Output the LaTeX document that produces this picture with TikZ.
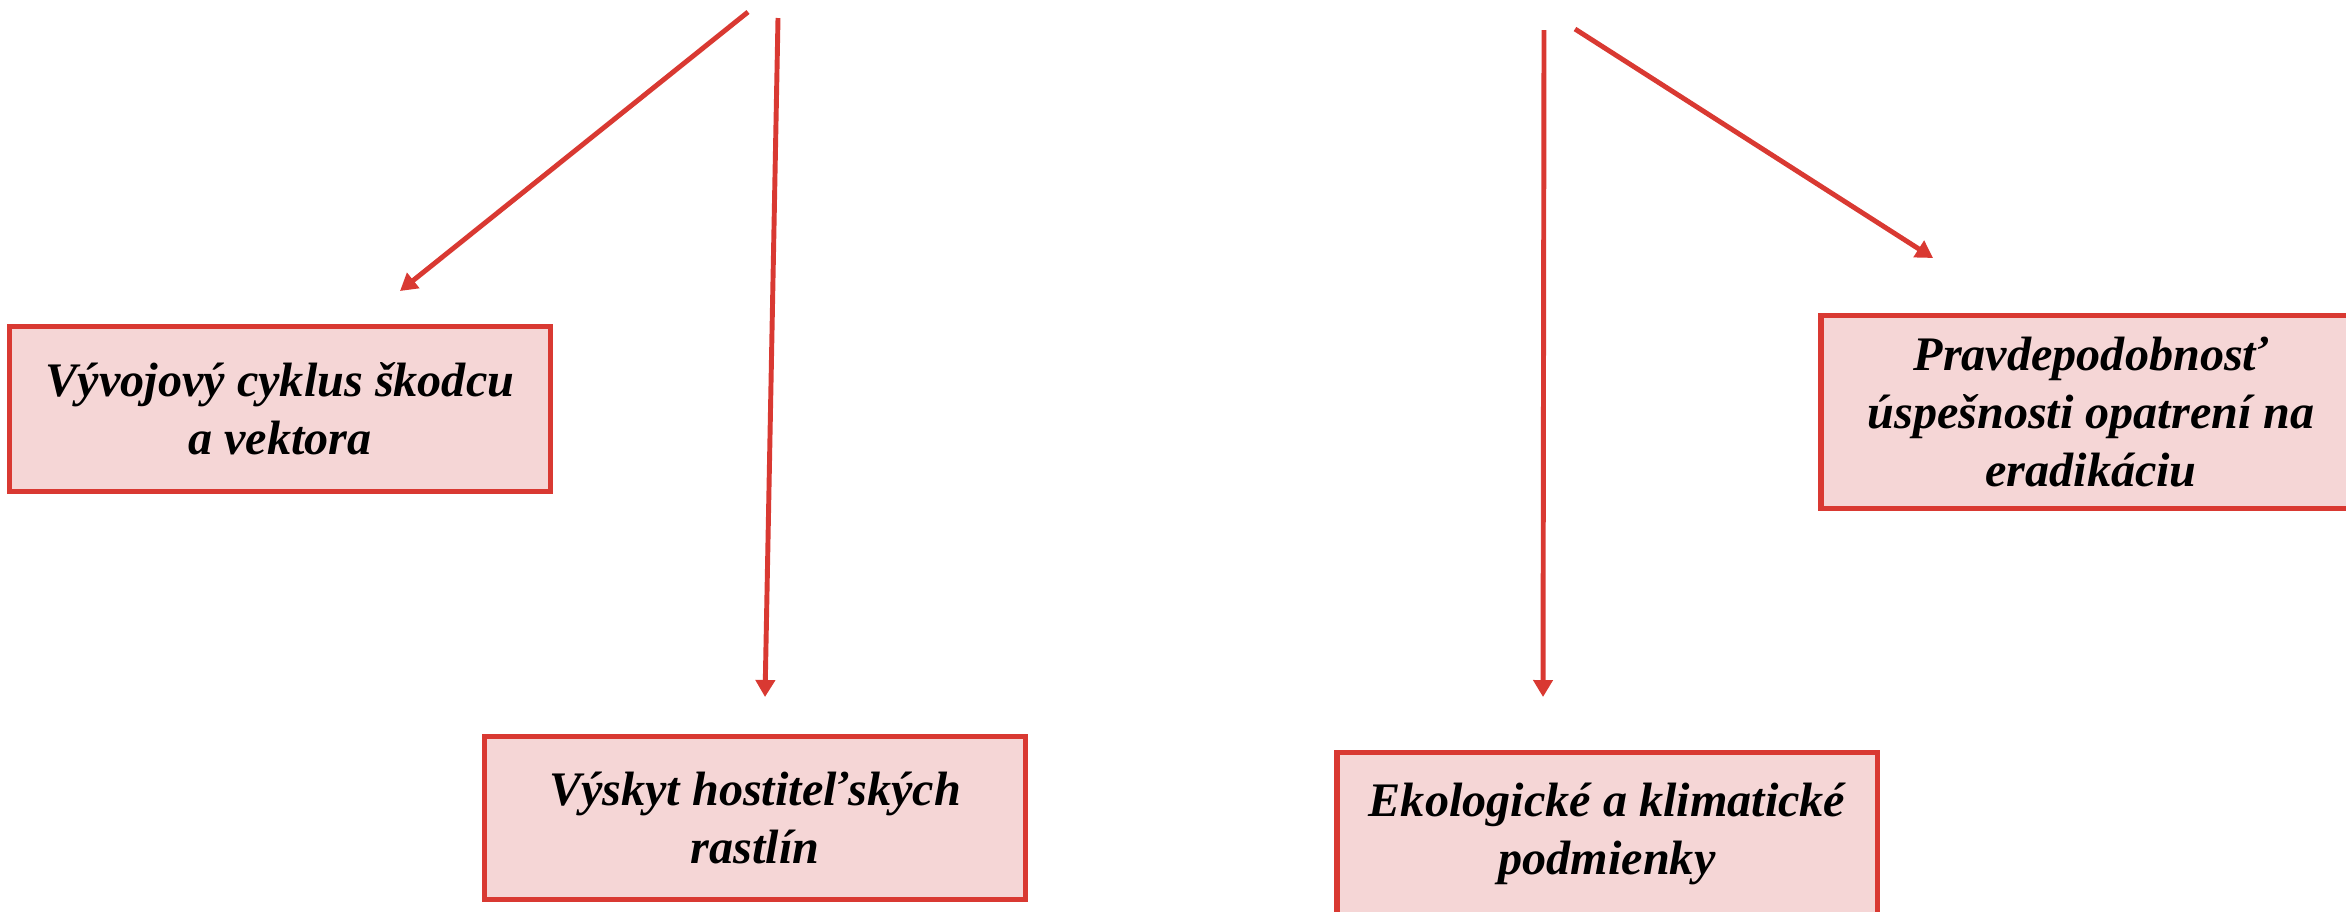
\documentclass[tikz,border=0pt]{standalone}
\usepackage{fontspec}
\setmainfont{Liberation Serif}
\usetikzlibrary{arrows.meta,positioning}
\definecolor{boxred}{RGB}{217,57,50}
\definecolor{boxpink}{RGB}{245,214,214}
\begin{document}
\begin{tikzpicture}[x=0.01cm,y=-0.01cm,>={Triangle[length=0.17cm,width=0.19cm]},
  factor/.style={draw=boxred,fill=boxpink,line width=1.5pt,minimum width=5.4cm,inner sep=0pt,align=center,font=\fontsize{13.7}{16.5}\selectfont\bfseries\itshape},
  link/.style={->,boxred,line width=1.4pt}]
\useasboundingbox (0,0) rectangle (2346,911);
\clip (0,0) rectangle (2346,911);
\node[factor,minimum height=1.65cm] (cycle) at (280,409) {Vývojový cyklus škodcu\\a vektora};
\node[factor,minimum height=1.63cm] (hosts) at (755,818) {Výskyt hostiteľských\\rastlín};
\node[factor,minimum height=1.63cm] (climate) at (1607,834) {Ekologické a klimatické\\podmienky};
\node[factor,minimum height=1.93cm] (success) at (2091,412) {Pravdepodobnosť\\úspešnosti opatrení na\\eradikáciu};
\coordinate (s1) at (748,12);
\coordinate (e1) at (400,291);
\coordinate (s2) at (778,18);
\coordinate (e2) at (765,697);
\coordinate (s3) at (1544,30);
\coordinate (e3) at (1543,697);
\coordinate (s4) at (1575,29);
\coordinate (e4) at (1933,258);
\draw[link] (s1) -- (e1);
\draw[link] (s2) -- (e2);
\draw[link] (s3) -- (e3);
\draw[link] (s4) -- (e4);
\end{tikzpicture}
\end{document}
